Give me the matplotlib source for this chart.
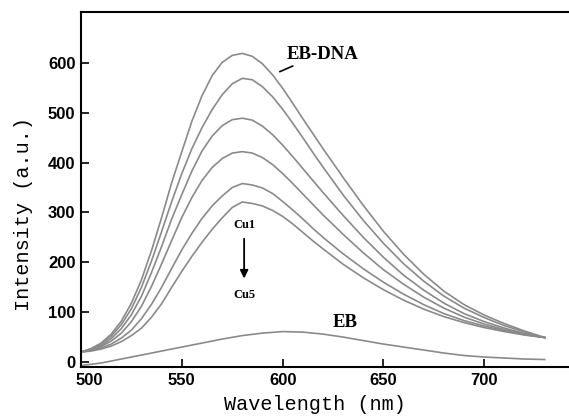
import numpy as np
import matplotlib
matplotlib.use("Agg")
import matplotlib.pyplot as plt
from matplotlib.transforms import ScaledTranslation

# wavelength grid (nm)
wl = [500, 505, 510, 515, 520, 525, 530, 535, 540, 545, 550, 555, 560, 565, 570, 575,
      580, 585, 590, 595, 600, 605, 610, 615, 620, 630, 640, 650, 660, 670, 680, 690,
      700, 710, 720, 730]

# EB-DNA and complex additions (Cu1 .. Cu5)
eb_dna = [20, 27, 38, 56, 82, 118, 165, 224, 290, 360, 422, 483, 534, 574, 601, 615,
          619, 613, 598, 576, 549, 519, 488, 458, 428, 370, 314, 262, 216, 176, 142, 115,
          94, 77, 62, 49]
cu1 = [20, 26, 36, 52, 75, 107, 150, 203, 262, 322, 378, 428, 470, 506, 536, 558,
       569, 566, 552, 532, 507, 479, 450, 420, 391, 335, 284, 238, 197, 162, 132, 108,
       89, 73, 60, 49]
cu2 = [20, 25, 33, 47, 67, 95, 132, 180, 232, 287, 336, 383, 423, 453, 474, 486,
       489, 485, 473, 456, 435, 412, 388, 364, 340, 294, 250, 210, 174, 144, 118, 97,
       81, 68, 57, 49]
cu3 = [20, 24, 31, 42, 58, 81, 112, 152, 197, 244, 290, 330, 364, 390, 408, 419,
       422, 419, 410, 396, 378, 358, 337, 316, 295, 256, 219, 185, 156, 130, 108, 90,
       76, 65, 56, 49]
cu4 = [20, 23, 28, 36, 48, 64, 87, 116, 150, 188, 225, 258, 288, 313, 333, 350,
       358, 355, 349, 338, 322, 305, 287, 268, 250, 217, 187, 160, 136, 115, 97, 83,
       72, 63, 55, 49]
cu5 = [20, 22, 26, 32, 41, 53, 68, 90, 117, 150, 182, 212, 240, 266, 289, 310,
       321, 318, 313, 304, 292, 277, 260, 243, 227, 196, 169, 145, 124, 106, 91, 79,
       69, 61, 54, 49]

# free EB
wl_eb = [500, 510, 520, 530, 540, 550, 560, 570, 580, 590, 600, 610, 620, 630, 640,
         650, 660, 670, 680, 690, 700, 710, 720, 730]
eb = [-7, -2, 6, 14, 22, 30, 38, 46, 53, 58, 61, 60, 56, 50, 43, 36, 30, 24, 18, 13,
      10, 8, 6, 5]

fig = plt.figure(figsize=(5.69, 4.16), dpi=100)
ax = fig.add_axes([81 / 569, 1 - 367 / 416, 1 - 81 / 569, 355 / 416])

line_col = "#8a8a8a"
for s in [eb_dna, cu1, cu2, cu3, cu4, cu5]:
    ax.plot(wl, s, color=line_col, lw=1.2)
ax.plot(wl_eb, eb, color=line_col, lw=1.2)

ax.set_xlim(500, 742)
ax.set_ylim(-10, 702)
ax.set_xticks([500, 550, 600, 650, 700])
ax.set_yticks([0, 100, 200, 300, 400, 500, 600])
ax.tick_params(direction="in", length=6, width=1.2, labelsize=12, pad=4)
for lab in ax.get_xticklabels() + ax.get_yticklabels():
    lab.set_fontfamily("Liberation Sans")
    lab.set_fontweight("bold")
# first x label sits a little right of its tick in the original
first = ax.get_xticklabels()[0]
first.set_transform(first.get_transform() + ScaledTranslation(6 / 72, 0, fig.dpi_scale_trans))
for side in ["left", "bottom", "top"]:
    ax.spines[side].set_linewidth(1.5)
ax.spines["right"].set_visible(False)

ax.set_xlabel("Wavelength (nm)", fontfamily="Liberation Mono", fontsize=14.5)
ax.set_ylabel("Intensity (a.u.)", fontfamily="Liberation Mono", fontsize=14.5)
ax.xaxis.set_label_coords(0.48, -0.078)
ax.yaxis.set_label_coords(-0.098, 0.43)

# annotations
ax.text(602, 616, "EB-DNA", fontfamily="Liberation Serif", fontweight="bold",
        fontsize=13.5, ha="left", va="center")
ax.annotate("", xy=(597.3, 580), xytext=(606.3, 596),
            arrowprops=dict(arrowstyle="-", color="black", lw=1.2))
ax.text(625, 80, "EB", fontfamily="Liberation Serif", fontweight="bold",
        fontsize=13.5, ha="left", va="center")
ax.text(581, 274, "Cu1", fontfamily="Liberation Serif", fontweight="bold",
        fontsize=9, ha="center", va="center")
ax.text(581, 134, "Cu5", fontfamily="Liberation Serif", fontweight="bold",
        fontsize=9, ha="center", va="center")
ax.annotate("", xy=(580.9, 162), xytext=(580.9, 253),
            arrowprops=dict(arrowstyle="-|>", color="black", lw=1.3,
                            mutation_scale=12))

fig.savefig("out.png", dpi=100)
